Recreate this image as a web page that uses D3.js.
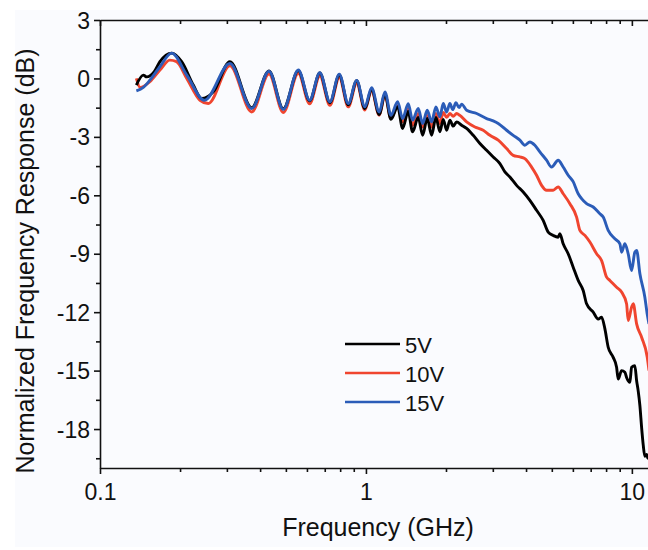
<!DOCTYPE html>
<html><head><meta charset="utf-8">
<script src="https://cdn.jsdelivr.net/npm/d3@7"></script>
<style>html,body{margin:0;padding:0;background:#fff;}svg{display:block;}</style>
</head><body>
<svg id="chart" width="648" height="550"></svg>
<script>
// ---------- data ----------
const seriesNames = ["5V", "10V", "15V"];
const seriesColors = ["#000000", "#f0452f", "#2b5cb8"];

const freq5V = [0.137,0.1455,0.1498,0.16,0.168,0.186,0.2028,0.2243,0.2412,0.2667,0.308,0.372,0.432,0.489,0.557,0.614,0.671,0.732,0.794,0.858,0.923,0.991,1.05,1.122,1.179,1.242,1.316,1.374,1.442,1.498,1.573,1.634,1.70,1.766,1.833,1.897,1.953,2.011,2.069,2.129,2.193,2.29,2.391,2.532,2.683,2.843,3.010,3.190,3.331,3.478,3.686,3.903,4.135,4.382,4.640,4.845,5.059,5.283,5.361,5.517,5.761,6.016,6.283,6.561,6.757,7.155,7.471,7.695,7.918,8.147,8.507,8.761,8.883,9.149,9.413,9.552,9.829,9.975,10.26,10.42,10.56,10.72,10.88,11.03,11.19,11.36,11.49,11.6];
const db5V = [-0.34,0.17,0.08,0.35,0.86,1.30,0.86,-0.34,-1.03,-0.69,0.86,-1.50,0.39,-1.55,0.40,-1.15,0.28,-1.25,0.18,-1.35,-0.12,-1.55,-0.55,-1.85,-0.80,-2.10,-1.45,-2.57,-1.70,-2.74,-2.00,-2.92,-2.05,-2.92,-2.00,-2.74,-2.10,-2.66,-2.14,-2.45,-2.23,-2.40,-2.57,-2.92,-3.34,-3.69,-4.03,-4.37,-4.80,-5.06,-5.49,-5.83,-6.26,-6.77,-7.29,-7.89,-8.06,-8.15,-7.97,-8.49,-9.00,-9.69,-10.37,-10.89,-11.57,-12.00,-12.35,-12.26,-12.86,-13.80,-14.32,-14.83,-15.43,-15.00,-15.09,-15.35,-15.60,-14.83,-14.75,-15.52,-16.03,-16.80,-17.92,-18.80,-19.40,-19.30,-19.50,-19.40];

const freq10V = [0.137,0.1414,0.154,0.168,0.183,0.194,0.212,0.2377,0.2553,0.308,0.372,0.432,0.489,0.557,0.614,0.671,0.732,0.794,0.858,0.923,0.991,1.05,1.122,1.179,1.242,1.316,1.374,1.442,1.498,1.573,1.634,1.70,1.766,1.833,1.897,1.953,2.011,2.069,2.129,2.193,2.256,2.391,2.569,2.761,2.926,3.144,3.381,3.579,3.793,3.960,4.197,4.382,4.576,4.778,5.059,5.283,5.517,5.847,6.197,6.376,6.659,6.953,7.369,7.695,8.036,8.268,8.761,9.149,9.552,9.685,9.975,10.12,10.42,10.88,11.42,11.6];
const db10V = [0.0,-0.46,-0.17,0.43,0.94,0.86,0.0,-1.12,-1.29,0.65,-1.72,0.22,-1.75,0.26,-1.30,0.12,-1.38,0.05,-1.46,-0.25,-1.62,-0.62,-1.89,-0.85,-2.06,-1.40,-2.23,-1.55,-2.40,-1.80,-2.49,-1.90,-2.49,-1.80,-2.31,-1.75,-2.00,-1.80,-1.95,-1.80,-1.90,-2.23,-2.49,-2.66,-2.92,-3.17,-3.60,-3.95,-4.03,-4.12,-4.55,-4.97,-5.49,-5.74,-5.74,-5.57,-5.92,-6.43,-7.12,-7.80,-8.06,-8.40,-9.00,-9.35,-10.20,-10.37,-10.72,-10.97,-11.57,-12.43,-11.75,-11.57,-12.60,-13.29,-14.30,-15.00];

const freq15V = [0.137,0.1455,0.154,0.168,0.186,0.212,0.247,0.308,0.372,0.432,0.489,0.557,0.614,0.671,0.732,0.794,0.858,0.923,0.991,1.05,1.122,1.179,1.242,1.316,1.374,1.442,1.498,1.573,1.634,1.70,1.766,1.833,1.897,1.953,2.011,2.069,2.12,2.18,2.24,2.29,2.391,2.608,2.843,3.010,3.144,3.381,3.579,3.793,3.960,4.135,4.318,4.509,4.778,4.990,5.283,5.517,5.761,6.016,6.283,6.471,6.757,7.155,7.582,7.802,8.147,8.633,9.015,9.149,9.413,9.685,9.975,10.26,10.42,10.72,11.19,11.42,11.6];
const db15V = [-0.64,-0.46,-0.09,0.60,1.30,0.17,-1.12,0.77,-1.54,0.37,-1.59,0.43,-1.12,0.29,-1.20,0.22,-1.29,-0.10,-1.46,-0.47,-1.72,-0.69,-1.89,-1.20,-2.06,-1.30,-2.14,-1.54,-2.31,-1.63,-2.23,-1.46,-1.97,-1.29,-1.72,-1.29,-1.60,-1.25,-1.50,-1.32,-1.63,-1.80,-2.06,-2.18,-2.31,-2.66,-2.92,-3.17,-3.43,-3.26,-3.43,-3.77,-4.20,-4.55,-4.20,-4.55,-4.97,-5.30,-5.92,-6.17,-6.43,-6.60,-6.95,-7.12,-7.80,-8.23,-8.49,-8.92,-8.49,-9.00,-9.86,-8.92,-8.83,-10.03,-11.23,-12.09,-12.60];

const yTickValues = [-18,-15,-12,-9,-6,-3,0,3];
const yMinorValues = [-19.5,-16.5,-13.5,-10.5,-7.5,-4.5,-1.5,1.5];
const xTickValues = [0.1,1,10];
const xTickLabels = ["0.1","1","10"];
const xMinorValues = [0.2,0.3,0.4,0.5,0.6,0.7,0.8,0.9,2,3,4,5,6,7,8,9];

const xTitle = "Frequency (GHz)";
const yTitle = "Normalized Frequency Response (dB)";

// ---------- chart ----------
const svg = d3.select("#chart");
const L = 100, R = 650, T = 20, B = 468;
const x = d3.scaleLog().domain([0.1, 11.7]).range([L, R]);
const y = d3.scaleLinear().domain([-20, 3]).range([B, T]);
const font = "'Liberation Sans', Arial, Helvetica, sans-serif";

svg.append("rect").attr("x",15).attr("y",10).attr("width",633).attr("height",537).attr("fill","#fafbfe");

const defs = svg.append("defs");
defs.append("clipPath").attr("id","clip").append("rect")
  .attr("x",L).attr("y",T).attr("width",R-L).attr("height",B-T);

const data = [
  {f: freq10V, v: db10V, c: seriesColors[1]},
  {f: freq5V, v: db5V, c: seriesColors[0]},
  {f: freq15V, v: db15V, c: seriesColors[2]}
];
const line = d3.line().x(d => x(d[0])).y(d => y(d[1])).curve(d3.curveMonotoneX);
const g = svg.append("g").attr("clip-path","url(#clip)");
data.forEach(s => {
  g.append("path").datum(s.f.map((f,i)=>[f, s.v[i]]))
    .attr("d", line).attr("fill","none").attr("stroke", s.c)
    .attr("stroke-width", 2.9).attr("stroke-linejoin","round");
});

// axes
const axStroke = "#111", axW = 1.6;
function styleAxis(sel){
  sel.select(".domain").attr("stroke",axStroke).attr("stroke-width",axW);
  sel.selectAll(".tick line").attr("stroke",axStroke).attr("stroke-width",axW);
  sel.selectAll("text").attr("font-family",font).attr("font-size",23).attr("fill","#111");
}
// left
const yAxis = svg.append("g").attr("transform",`translate(${L},0)`)
  .call(d3.axisLeft(y).tickValues(yTickValues).tickSize(6).tickSizeOuter(0).tickPadding(4).tickFormat(d3.format("d")));
styleAxis(yAxis);
yAxis.selectAll("text").attr("dy","0.35em").text(d => d < 0 ? "-" + Math.abs(d) : d);
svg.append("g").attr("transform",`translate(${L},0)`)
  .call(d3.axisLeft(y).tickValues(yMinorValues).tickSize(4).tickSizeOuter(0).tickFormat(""))
  .call(s => { s.select(".domain").remove(); s.selectAll("line").attr("stroke",axStroke).attr("stroke-width",axW); });
// right
svg.append("g").attr("transform",`translate(${R},0)`)
  .call(d3.axisLeft(y).tickValues(yTickValues).tickSize(-6).tickSizeOuter(0).tickFormat(""))
  .call(s => { s.select(".domain").attr("stroke",axStroke).attr("stroke-width",axW); s.selectAll("line").attr("stroke",axStroke).attr("stroke-width",axW); });
svg.append("g").attr("transform",`translate(${R},0)`)
  .call(d3.axisLeft(y).tickValues(yMinorValues).tickSize(-4).tickSizeOuter(0).tickFormat(""))
  .call(s => { s.select(".domain").remove(); s.selectAll("line").attr("stroke",axStroke).attr("stroke-width",axW); });
// bottom
const xAxis = svg.append("g").attr("transform",`translate(0,${B})`)
  .call(d3.axisBottom(x).tickValues(xTickValues).tickSize(6).tickSizeOuter(0).tickPadding(10).tickFormat((d,i)=>xTickLabels[i]));
styleAxis(xAxis);
svg.append("g").attr("transform",`translate(0,${B})`)
  .call(d3.axisBottom(x).tickValues(xMinorValues).tickSize(4).tickSizeOuter(0).tickFormat(""))
  .call(s => { s.select(".domain").remove(); s.selectAll("line").attr("stroke",axStroke).attr("stroke-width",axW); });
// top
svg.append("g").attr("transform",`translate(0,${T})`)
  .call(d3.axisBottom(x).tickValues(xTickValues).tickSize(6).tickSizeOuter(0).tickFormat(""))
  .call(s => { s.select(".domain").attr("stroke",axStroke).attr("stroke-width",axW); s.selectAll("line").attr("stroke",axStroke).attr("stroke-width",axW); });
svg.append("g").attr("transform",`translate(0,${T})`)
  .call(d3.axisBottom(x).tickValues(xMinorValues).tickSize(4).tickSizeOuter(0).tickFormat(""))
  .call(s => { s.select(".domain").remove(); s.selectAll("line").attr("stroke",axStroke).attr("stroke-width",axW); });

// titles
svg.append("text").attr("x",378).attr("y",536).attr("text-anchor","middle")
  .attr("font-family",font).attr("font-size",25).attr("fill","#111").text(xTitle);
svg.append("text").attr("transform","translate(33.5,261) rotate(-90)").attr("text-anchor","middle")
  .attr("font-family",font).attr("font-size",25).attr("fill","#111").text(yTitle);

// legend
const legY = [344, 373, 402];
seriesNames.forEach((n,i) => {
  svg.append("line").attr("x1",345).attr("x2",400).attr("y1",legY[i]).attr("y2",legY[i])
    .attr("stroke",seriesColors[i]).attr("stroke-width",2.6);
  svg.append("text").attr("x",405).attr("y",legY[i]+9).attr("font-family",font)
    .attr("font-size",22).attr("fill","#111").text(n);
});
</script>
</body></html>
